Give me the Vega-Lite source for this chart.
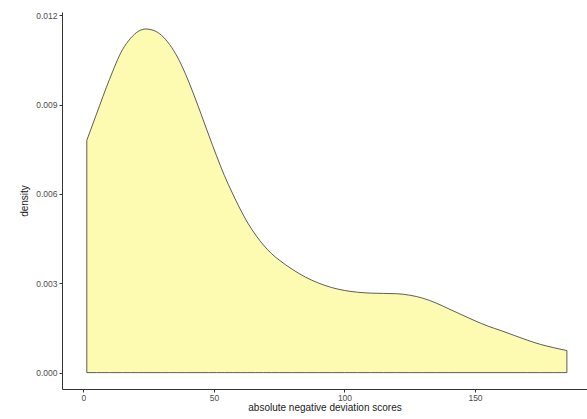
{
  "$schema": "https://vega.github.io/schema/vega-lite/v6.json",
  "width": 525,
  "height": 377,
  "autosize": {"type": "none"},
  "padding": {"left": 62, "top": 12, "right": 0, "bottom": 30},
  "background": "white",
  "config": {
    "view": {"stroke": null},
    "axis": {
      "grid": false,
      "domainColor": "#333333",
      "domainWidth": 1,
      "tickColor": "#333333",
      "tickSize": 3,
      "labelFont": "Liberation Sans",
      "labelFontSize": 8.5,
      "labelColor": "#4D4D4D",
      "titleFont": "Liberation Sans",
      "titleFontSize": 10,
      "titleFontWeight": "normal",
      "titleColor": "#1a1a1a"
    }
  },
  "data": {
    "values": [
      {"x": 1.3, "density": 0.0078},
      {"x": 5, "density": 0.00868},
      {"x": 10, "density": 0.00985},
      {"x": 15, "density": 0.01085},
      {"x": 18, "density": 0.01122},
      {"x": 21, "density": 0.01146},
      {"x": 24, "density": 0.01154},
      {"x": 27, "density": 0.01149},
      {"x": 30, "density": 0.01132},
      {"x": 33, "density": 0.01102},
      {"x": 36, "density": 0.0106},
      {"x": 39, "density": 0.01005},
      {"x": 42, "density": 0.0094},
      {"x": 45, "density": 0.0087},
      {"x": 48, "density": 0.00798},
      {"x": 51, "density": 0.00728},
      {"x": 54, "density": 0.00662},
      {"x": 57, "density": 0.00604},
      {"x": 60, "density": 0.0055},
      {"x": 63, "density": 0.00502},
      {"x": 66, "density": 0.00462},
      {"x": 69, "density": 0.00428},
      {"x": 72, "density": 0.004},
      {"x": 75, "density": 0.00378},
      {"x": 80, "density": 0.00347},
      {"x": 85, "density": 0.00321},
      {"x": 90, "density": 0.00301},
      {"x": 95, "density": 0.00286},
      {"x": 100, "density": 0.00276},
      {"x": 105, "density": 0.0027},
      {"x": 110, "density": 0.00267},
      {"x": 115, "density": 0.00266},
      {"x": 120, "density": 0.00265},
      {"x": 125, "density": 0.0026},
      {"x": 130, "density": 0.0025},
      {"x": 135, "density": 0.00234},
      {"x": 140, "density": 0.00214},
      {"x": 145, "density": 0.00194},
      {"x": 150, "density": 0.00174},
      {"x": 155, "density": 0.00156},
      {"x": 160, "density": 0.00141},
      {"x": 165, "density": 0.00125},
      {"x": 170, "density": 0.00109},
      {"x": 175, "density": 0.00095},
      {"x": 180, "density": 0.00084},
      {"x": 185.2, "density": 0.00074}
    ]
  },
  "mark": {
    "type": "area",
    "interpolate": "monotone",
    "fill": "#FDFBB2",
    "fillOpacity": 1,
    "stroke": "#333333",
    "strokeWidth": 0.8
  },
  "encoding": {
    "x": {
      "field": "x",
      "type": "quantitative",
      "title": "absolute negative deviation scores",
      "scale": {"domain": [-8.2, 192.9], "nice": false, "zero": false},
      "axis": {"values": [0, 50, 100, 150], "labelPadding": 1, "titlePadding": 1}
    },
    "y": {
      "field": "density",
      "type": "quantitative",
      "title": "density",
      "scale": {"domain": [-0.00055, 0.01211], "nice": false, "zero": false},
      "axis": {"values": [0, 0.003, 0.006, 0.009, 0.012], "format": ".3f", "labelPadding": 2, "titlePadding": 6}
    }
  }
}
